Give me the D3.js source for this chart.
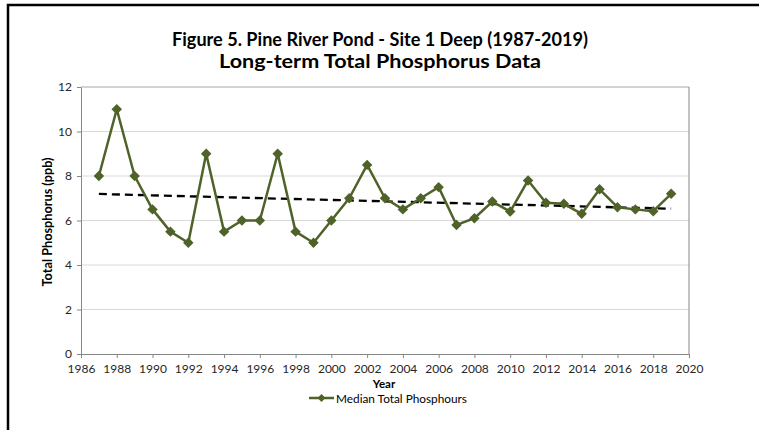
<!DOCTYPE html>
<html><head><meta charset="utf-8">
<script src="https://cdn.jsdelivr.net/npm/d3@7"></script>
<style>
html,body{margin:0;padding:0;background:#fff;}
svg{display:block;font-family:Lato,"Open Sans",sans-serif;}
</style></head>
<body><svg id="c" width="759" height="430"></svg>
<script>
const years = [1987,1988,1989,1990,1991,1992,1993,1994,1995,1996,1997,1998,1999,2000,2001,2002,2003,2004,2005,2006,2007,2008,2009,2010,2011,2012,2013,2014,2015,2016,2017,2018,2019];
const medianTP = [8,11,8,6.5,5.5,5,9,5.5,6,6,9,5.5,5,6,7,8.5,7,6.5,7,7.5,5.8,6.1,6.85,6.4,7.8,6.8,6.75,6.3,7.4,6.6,6.5,6.42,7.2];
const xTicks = d3.range(1986, 2021, 2);
const yTicks = [0,2,4,6,8,10,12];
const titleLines = ["Figure 5. Pine River Pond - Site 1 Deep (1987-2019)", "Long-term Total Phosphorus Data"];
const xTitle = "Year", yTitle = "Total Phosphorus (ppb)", seriesName = "Median Total Phosphours";

const svg = d3.select("#c");
const L = 81, R = 689, T = 87, B = 354;
const x = d3.scaleLinear().domain([1986, 2020]).range([L, R]);
const y = d3.scaleLinear().domain([0, 12]).range([B, T]);

// outer frame
svg.append("path").attr("d", "M8,430 L8,5 L759,5").attr("fill","none").attr("stroke","#000").attr("stroke-width",2.5);

// gridlines
svg.append("g").selectAll("line").data(yTicks.filter(d=>d>0)).join("line")
  .attr("x1", L).attr("x2", R).attr("y1", d=>y(d)).attr("y2", d=>y(d))
  .attr("stroke", d=> d===12 ? "#a6a6a6" : "#d9d9d9").attr("stroke-width",1);
// right border
svg.append("line").attr("x1",R).attr("x2",R).attr("y1",T).attr("y2",B).attr("stroke","#868686");

// axes
const xAxis = svg.append("g").attr("transform",`translate(0,${B})`)
  .call(d3.axisBottom(x).tickValues(xTicks).tickFormat(d3.format("d")).tickSize(4).tickSizeOuter(0));
const yAxis = svg.append("g").attr("transform",`translate(${L},0)`)
  .call(d3.axisLeft(y).tickValues(yTicks).tickSize(4).tickSizeOuter(0));
[xAxis,yAxis].forEach(a=>{
  a.select(".domain").attr("stroke","#868686");
  a.selectAll(".tick line").attr("stroke","#868686");
  a.selectAll("text").attr("fill","#262626").style("font-size","12px").style("font-family","Lato,sans-serif");
});
xAxis.selectAll("text").attr("dy","0").attr("y",18.5);
yAxis.selectAll("text").attr("x",-9);

// trendline (linear least squares)
const mx = d3.mean(years), my = d3.mean(medianTP);
const slope = d3.sum(years,(v,i)=>(v-mx)*(medianTP[i]-my)) / d3.sum(years,v=>(v-mx)*(v-mx));
const trend = [years[0], years[years.length-1]].map(v=>[v, my + slope*(v-mx)]);
svg.append("line")
  .attr("x1", x(trend[0][0])).attr("y1", y(trend[0][1]))
  .attr("x2", x(trend[1][0])).attr("y2", y(trend[1][1]))
  .attr("stroke","#000").attr("stroke-width",2.3).attr("stroke-dasharray","8,5");

// series
const col = "#4f6228";
svg.append("path").datum(years.map((v,i)=>[v,medianTP[i]]))
  .attr("d", d3.line().x(d=>x(d[0])).y(d=>y(d[1])))
  .attr("fill","none").attr("stroke",col).attr("stroke-width",2.5).attr("stroke-linejoin","round");
const diamond = d3.symbol().type(d3.symbolDiamond2).size(70);
svg.append("g").selectAll("path").data(years.map((v,i)=>[v,medianTP[i]])).join("path")
  .attr("transform", d=>`translate(${x(d[0])},${y(d[1])})`)
  .attr("d", diamond).attr("fill", col);

// titles
svg.append("text").attr("x",380).attr("y",46).attr("text-anchor","middle")
  .attr("font-weight","bold").attr("font-size",18.5).attr("fill","#000")
  .attr("textLength",416).attr("lengthAdjust","spacingAndGlyphs").text(titleLines[0]);
svg.append("text").attr("x",380).attr("y",68).attr("text-anchor","middle")
  .attr("font-weight","bold").attr("font-size",18.5).attr("fill","#000")
  .attr("textLength",322).attr("lengthAdjust","spacingAndGlyphs").text(titleLines[1]);

svg.append("text").attr("x",384).attr("y",387.5).attr("text-anchor","middle")
  .attr("font-weight","bold").attr("font-size",11.5).attr("fill","#000").text(xTitle);
svg.append("text").attr("transform","translate(52,222) rotate(-90)").attr("text-anchor","middle")
  .attr("font-weight","bold").attr("font-size",13).attr("fill","#000")
  .attr("textLength",129).attr("lengthAdjust","spacingAndGlyphs").text(yTitle);

// legend
const lg = svg.append("g");
lg.append("line").attr("x1",309).attr("x2",334).attr("y1",398).attr("y2",398).attr("stroke",col).attr("stroke-width",2.5);
lg.append("path").attr("transform","translate(321.5,398)").attr("d", d3.symbol().type(d3.symbolDiamond2).size(40)).attr("fill",col);
lg.append("text").attr("x",336).attr("y",402.5).attr("font-size",12).attr("fill","#000")
  .attr("textLength",131).attr("lengthAdjust","spacingAndGlyphs").text(seriesName);
</script></body></html>
